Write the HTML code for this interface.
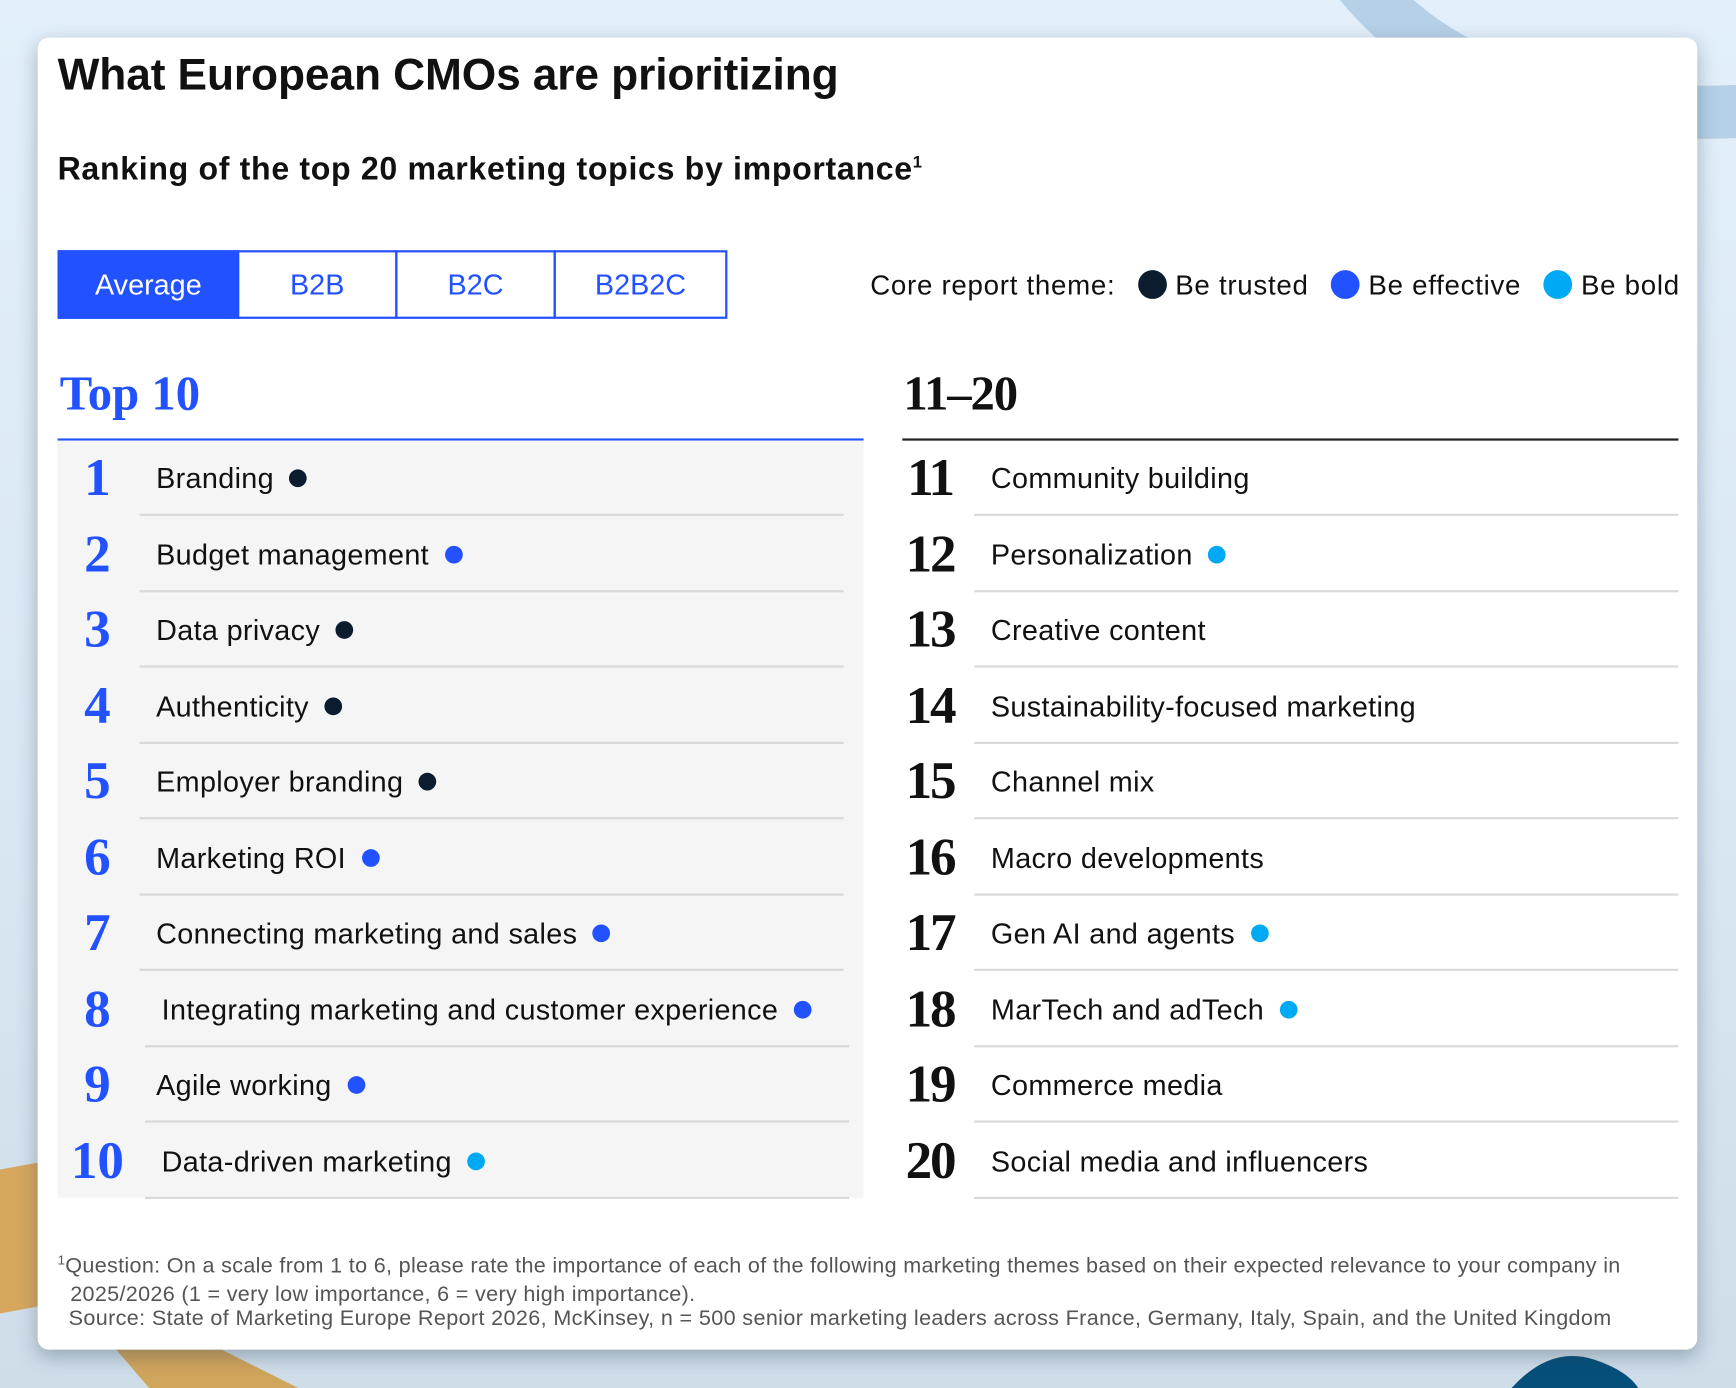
<!DOCTYPE html>
<html><head><meta charset="utf-8"><style>
html,body{margin:0;padding:0;width:1736px;height:1388px;overflow:hidden;background:#dcebf7;position:relative}
#w{position:absolute;left:0;top:0;width:1568px;height:1254px;transform:scale(1.10714);transform-origin:0 0;font-family:"Liberation Sans",sans-serif;color:#111;
background:linear-gradient(180deg,#e3f0fb 0%,#d9e7f3 60%,#cfdde9 100%);overflow:hidden}
.card{position:absolute;left:34px;top:34px;width:1499px;height:1185px;background:#fff;border-radius:10px;box-shadow:0 6px 18px rgba(40,60,80,.35)}
.a{position:absolute;white-space:nowrap}
.tab{position:absolute;top:226px;height:62px;border:2px solid #2251ff;color:#2251ff;font-size:26px;display:flex;align-items:center;justify-content:center;box-sizing:border-box}
.dot{display:inline-block;width:16px;height:16px;border-radius:50%;vertical-align:middle;margin-left:14px;position:relative;top:-2px}
.t{background:#0a1c2e}.e{background:#2251ff}.b{background:#00a9f4}
.ld{display:inline-block;width:26px;height:26px;border-radius:50%;vertical-align:middle;margin:0 8px 0 20px;position:relative;top:-2px}
.num{position:absolute;font-family:"Liberation Serif",serif;font-weight:bold;font-size:48px;text-align:center;width:80px;line-height:1}
.lbl{position:absolute;font-size:26px;line-height:1;letter-spacing:0.3px}
.sep{position:absolute;height:2px;background:#d9d9d9}
</style></head><body><div id="w">
<svg class="a" style="left:0;top:0" width="1568" height="1254">
<path d="M1225,-20 Q1330,115 1580,100" stroke="#b6d1e7" stroke-width="48" fill="none"/>
<path d="M-20,1060 L35,1050 L35,1180 L-20,1190Z" fill="#d6a85e"/>
<path d="M105,1219 L200,1219 L270,1254 L135,1254Z" fill="#d0a55c"/>
<path d="M1365,1254 Q1400,1215 1440,1228 Q1470,1238 1480,1254Z" fill="#05507a"/>
</svg>
<div class="card"></div>
<div class="a" style="left:52px;top:46px;font-size:40px;font-weight:bold;letter-spacing:-0.1px">What European CMOs are prioritizing</div>
<div class="a" style="left:52px;top:137px;font-size:29px;font-weight:bold;letter-spacing:0.6px">Ranking of the top 20 marketing topics by importance<sup style="font-size:15px">1</sup></div>
<div class="tab" style="left:52px;width:164px;background:#2251ff;color:#fff">Average</div>
<div class="tab" style="left:214px;width:145px">B2B</div>
<div class="tab" style="left:357px;width:145px">B2C</div>
<div class="tab" style="left:500px;width:157px">B2B2C</div>
<div class="a" style="left:786px;top:244px;font-size:25px;letter-spacing:0.65px">Core report theme:<span class="ld t"></span>Be trusted<span class="ld e"></span>Be effective<span class="ld b"></span>Be bold</div>
<div class="a" style="left:54px;top:330px;font-family:'Liberation Serif',serif;font-weight:bold;font-size:44px;color:#2251ff">Top 10</div>
<div class="a" style="left:816px;top:330px;font-family:'Liberation Serif',serif;font-weight:bold;font-size:44px;color:#111;letter-spacing:-1px">11–20</div>
<div class="a" style="left:52px;top:396px;width:728px;height:2px;background:#2251ff"></div>
<div class="a" style="left:52px;top:398px;width:728px;height:684px;background:#f5f5f5"></div>
<div class="a" style="left:815px;top:396px;width:701px;height:2px;background:#222"></div>
<div id="rows"></div>
<div class="a" style="left:52px;top:1126px;font-size:19.5px;color:#555;line-height:25px;letter-spacing:0.28px"><sup style="font-size:12px">1</sup>Question: On a scale from 1 to 6, please rate the importance of each of the following marketing themes based on their expected relevance to your company in<br>&nbsp;&nbsp;2025/2026 (1 = very low importance, 6 = very high importance).</div>
<div class="a" style="left:62px;top:1180px;font-size:19.5px;color:#555;letter-spacing:0.32px">Source: State of Marketing Europe Report 2026, McKinsey, n = 500 senior marketing leaders across France, Germany, Italy, Spain, and the United Kingdom</div>
</div>
<script>
var L=[["Branding","t",0],["Budget management","e",0],["Data privacy","t",0],["Authenticity","t",0],["Employer branding","t",0],["Marketing ROI","e",0],["Connecting marketing and sales","e",0],["Integrating marketing and customer experience","e",5],["Agile working","e",0],["Data-driven marketing","b",5]];
var R=[["Community building",""],["Personalization","b"],["Creative content",""],["Sustainability-focused marketing",""],["Channel mix",""],["Macro developments",""],["Gen AI and agents","b"],["MarTech and adTech","b"],["Commerce media",""],["Social media and influencers",""]];
var h="";
for(var i=0;i<10;i++){var c=432+i*68.5;
h+='<div class="num" style="left:48px;top:'+(c-24)+'px;color:#2251ff">'+(i+1)+'</div>';
h+='<div class="lbl" style="left:'+(141+L[i][2])+'px;top:'+(c-13)+'px">'+L[i][0]+'<span class="dot '+L[i][1]+'"></span></div>';
h+='<div class="sep" style="left:'+(i>=7?131:126)+'px;width:636px;top:'+(c+32)+'px"></div>';
h+='<div class="num" style="left:800px;top:'+(c-24)+'px;color:#111;letter-spacing:-2px">'+(i+11)+'</div>';
h+='<div class="lbl" style="left:895px;top:'+(c-13)+'px">'+R[i][0]+(R[i][1]?'<span class="dot '+R[i][1]+'"></span>':'')+'</div>';
h+='<div class="sep" style="left:880px;width:636px;top:'+(c+32)+'px"></div>';}
document.getElementById("rows").outerHTML=h;
</script>
</body></html>
